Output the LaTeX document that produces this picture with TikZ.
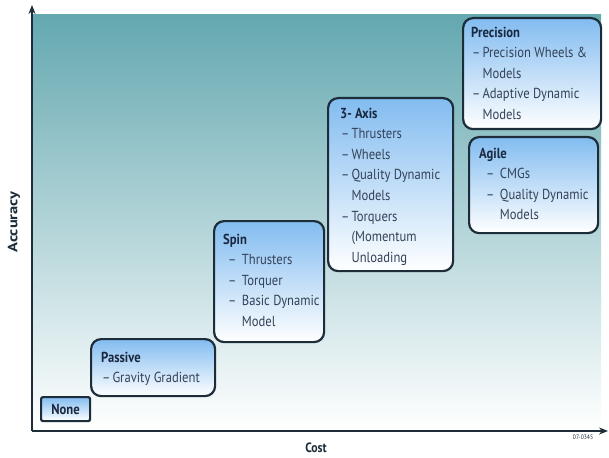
\documentclass[tikz,border=0pt]{standalone}
\usepackage{fontspec}
\setmainfont{PT Sans}[FakeStretch=0.87]
\usetikzlibrary{arrows.meta}

\definecolor{bgtop}{RGB}{100,168,176}
\definecolor{boxtop}{RGB}{130,188,240}
\definecolor{edgecol}{RGB}{28,44,56}
\definecolor{titlecol}{RGB}{26,40,64}
\definecolor{itemcol}{RGB}{52,66,88}

\newcommand{\ttl}[1]{\textbf{\color{titlecol}#1}}
\newcommand{\itm}[1][1pt]{\hspace*{#1}--\hspace{2pt}}
\newcommand{\cnt}[1][1pt]{\hspace*{#1}\hphantom{--}\hspace{2pt}}

\tikzset{
  stage/.style={draw=edgecol, line width=2.2pt, rounded corners=10pt,
    top color=boxtop, bottom color=white, anchor=north west, inner sep=0pt},
  stagetext/.style={anchor=north west, align=left, inner sep=0pt, text=itemcol,
    font=\fontsize{14.5}{20.6}\selectfont},
  axis/.style={draw=edgecol, line width=2.6pt, -{Stealth[length=9pt,width=7pt]}},
  axlabel/.style={text=edgecol, font=\bfseries\fontsize{13.5}{15}\selectfont}
}

\begin{document}
\begin{tikzpicture}[x=1pt,y=-1pt]
  \useasboundingbox (0,0) rectangle (609,457);
  % background
  \fill[top color=bgtop, bottom color=white] (33,15) rectangle (601,430);

  % boxes
  \node[stage, rounded corners=2pt, minimum width=49pt, minimum height=24pt,
        font=\fontsize{14.5}{15}\selectfont] (none) at (40,396) {\ttl{None}};
  \node[stage, minimum width=124pt, minimum height=57pt] (passive) at (90,338) {};
  \node[stage, minimum width=110pt, minimum height=121pt] (spin) at (213,220) {};
  \node[stage, minimum width=125pt, minimum height=173pt] (triax) at (327,97) {};
  \node[stage, minimum width=138pt, minimum height=111pt] (precision) at (462,17) {};
  \node[stage, minimum width=129pt, minimum height=96pt] (agile) at (468,136) {};

  % box texts
  \node[stagetext] (passivetxt) at (101,351.5) {\ttl{Passive}\\ \itm Gravity Gradient};
  \node[stagetext] (spintxt) at (223,233.5) {\ttl{Spin}\\ \itm[5pt] Thrusters\\
    \itm[5pt] Torquer\\ \itm[5pt] Basic Dynamic\\ \cnt[5pt] Model};
  \node[stagetext] (triaxtxt) at (340,107.5) {\ttl{3- Axis}\\ \itm Thrusters\\ \itm Wheels\\
    \itm Quality Dynamic\\ \cnt Models\\ \itm Torquers\\ \cnt (Momentum\\ \cnt Unloading};
  \node[stagetext] (precisiontxt) at (471,26.5) {\ttl{Precision}\\ \itm Precision Wheels \&\\
    \cnt Models\\ \itm Adaptive Dynamic\\ \cnt Models};
  \node[stagetext] (agiletxt) at (479,147.5) {\ttl{Agile}\\ \itm[7pt] CMGs\\
    \itm[7pt] Quality Dynamic\\ \cnt[7pt] Models};

  % axes
  \coordinate (origin) at (32,431);
  \coordinate (xend) at (608,431);
  \coordinate (yend) at (32,5);
  \draw[axis] (origin) -- (xend);
  \draw[axis] (origin) -- (yend);
  \node[axlabel] (cost) at (316,448) {Cost};
  \node[axlabel, rotate=90] (accuracy) at (14,222) {\scalebox{1.4}[1]{Accuracy}};
  \node[text=edgecol, font=\fontsize{6.5}{8}\selectfont] (code) at (583,437) {07-0345};
\end{tikzpicture}
\end{document}
